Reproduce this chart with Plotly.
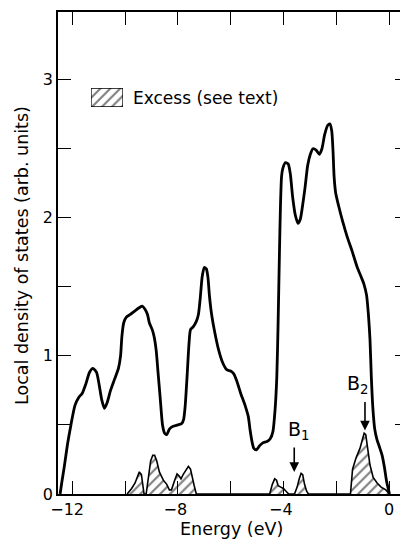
import plotly.graph_objects as go

# ---- data ----
energy = [-12.46, -12.40, -12.30, -12.18, -12.05, -11.90, -11.75, -11.62, -11.48, -11.35,
          -11.22, -11.08, -10.98, -10.88, -10.78, -10.68, -10.55, -10.40, -10.25, -10.17,
          -10.12, -10.05, -9.95, -9.80, -9.60, -9.45, -9.35, -9.25, -9.15, -9.08,
          -8.97, -8.90, -8.82, -8.75, -8.67, -8.58, -8.50, -8.42, -8.32, -8.18,
          -8.00, -7.85, -7.78, -7.72, -7.65, -7.58, -7.52, -7.42, -7.30, -7.22,
          -7.15, -7.08, -7.00, -6.92, -6.86, -6.80, -6.72, -6.60, -6.45, -6.30,
          -6.15, -6.00, -5.88, -5.77, -5.62, -5.45, -5.33, -5.26, -5.18, -5.12,
          -5.02, -4.90, -4.78, -4.62, -4.50, -4.40, -4.32, -4.25, -4.20, -4.15,
          -4.11, -4.07, -4.02, -3.92, -3.82, -3.74, -3.65, -3.55, -3.45, -3.36,
          -3.28, -3.18, -3.08, -2.98, -2.88, -2.76, -2.64, -2.54, -2.44, -2.32,
          -2.24, -2.17, -2.12, -2.08, -2.02, -1.90, -1.75, -1.58, -1.40, -1.20,
          -1.05, -0.95, -0.85, -0.78, -0.72, -0.67, -0.61, -0.54, -0.45, -0.36,
          -0.26, -0.17, -0.09, 0.02]
dos = [0.00, 0.08, 0.20, 0.36, 0.50, 0.64, 0.70, 0.73, 0.80, 0.88,
       0.91, 0.88, 0.79, 0.68, 0.62, 0.66, 0.75, 0.83, 0.91, 1.00,
       1.14, 1.24, 1.28, 1.30, 1.33, 1.35, 1.36, 1.34, 1.30, 1.24,
       1.19, 1.14, 1.04, 0.88, 0.70, 0.50, 0.44, 0.43, 0.47, 0.49,
       0.50, 0.51, 0.54, 0.64, 0.85, 1.08, 1.19, 1.21, 1.25, 1.30,
       1.42, 1.57, 1.64, 1.63, 1.57, 1.43, 1.30, 1.17, 1.04, 0.95,
       0.90, 0.89, 0.87, 0.82, 0.73, 0.64, 0.56, 0.46, 0.37, 0.33,
       0.32, 0.35, 0.37, 0.38, 0.40, 0.45, 0.60, 0.85, 1.25, 1.75,
       2.10, 2.30, 2.36, 2.40, 2.39, 2.32, 2.15, 2.02, 1.96, 1.99,
       2.08, 2.22, 2.38, 2.46, 2.50, 2.49, 2.46, 2.50, 2.60, 2.67,
       2.68, 2.63, 2.48, 2.30, 2.18, 2.08, 1.97, 1.86, 1.76, 1.64,
       1.57, 1.52, 1.44, 1.30, 1.12, 0.85, 0.62, 0.47, 0.39, 0.34,
       0.28, 0.19, 0.09, 0.00]

excess_energy = [-9.92, -9.75, -9.62, -9.52, -9.46, -9.38, -9.33, -9.28, -9.20, -9.10,
                 -9.03, -8.95, -8.88, -8.80, -8.70, -8.55, -8.42, -8.32, -8.24, -8.12,
                 -8.03, -7.95, -7.88, -7.80, -7.68, -7.60, -7.52, -7.45, -7.38, -7.30,
                 -4.52, -4.42, -4.33, -4.26, -4.20, -4.10, -4.00, -3.90, -3.80,
                 -3.58, -3.48, -3.40, -3.33, -3.27, -3.20, -3.12, -3.05,
                 -1.46, -1.42, -1.38, -1.25, -1.10, -1.00, -0.94, -0.88, -0.84, -0.80,
                 -0.72, -0.60, -0.45, -0.30, -0.12, 0.02]
excess = [0.00, 0.04, 0.08, 0.13, 0.16, 0.14, 0.06, 0.00, 0.00, 0.15,
          0.24, 0.28, 0.28, 0.24, 0.16, 0.10, 0.07, 0.03, 0.03, 0.10,
          0.145, 0.13, 0.11, 0.14, 0.18, 0.20, 0.18, 0.13, 0.06, 0.00,
          0.00, 0.07, 0.11, 0.10, 0.06, 0.05, 0.04, 0.02, 0.00,
          0.00, 0.05, 0.11, 0.15, 0.14, 0.07, 0.02, 0.00,
          0.00, 0.12, 0.18, 0.26, 0.33, 0.40, 0.44, 0.43, 0.38, 0.31,
          0.21, 0.12, 0.08, 0.05, 0.03, 0.00]

x_tick_vals = [-12, -10, -8, -6, -4, -2, 0]
x_tick_text = ["\u221212\u00a0\u00a0", "", "\u22128\u00a0", "", "\u22124\u00a0", "", "0"]
y_tick_vals = [0, 0.5, 1, 1.5, 2, 2.5, 3]
y_tick_text = ["0", "", "1", "", "2", "", "3"]

marker_labels = ["B<sub>1</sub>", "B<sub>2</sub>"]
marker_energy = [-3.59, -0.91]
marker_value = [0.16, 0.46]

legend_label = "Excess (see text)"
x_title = "Energy (eV)"
y_title = "Local density of states (arb. units)"

# unit square used as the legend swatch (in its own hidden 0..1 axes)
swatch_x = [0, 1, 1, 0, 0]
swatch_y = [0, 0, 1, 1, 0]

FONT = "DejaVu Sans"
hatch = dict(shape="/", fgcolor="black", bgcolor="white", size=7, solidity=0.3)

fig = go.Figure()
fig.add_trace(go.Scatter(
    x=excess_energy, y=excess, mode="lines", fill="tozeroy",
    fillpattern=hatch, fillcolor="white",
    line=dict(color="black", width=1.6), showlegend=False, hoverinfo="skip"))
fig.add_trace(go.Scatter(
    x=energy, y=dos, mode="lines",
    line=dict(color="black", width=2.8, shape="spline", smoothing=0.6),
    showlegend=False))
fig.add_trace(go.Scatter(
    x=swatch_x, y=swatch_y, xaxis="x2", yaxis="y2", mode="lines", fill="toself",
    fillpattern=hatch, fillcolor="white",
    line=dict(color="black", width=1.3), showlegend=False, hoverinfo="skip"))

# the page body adds an 8 px offset; target positions are given in screen pixels
OFF = 8
W, H = 408, 544
PLOT_L, PLOT_T, PLOT_R, PLOT_B = 58, 12, 408, 494          # screen pixels
L, T = PLOT_L - OFF, PLOT_T - OFF
R, B = W - (PLOT_R - OFF), H - (PLOT_B - OFF)
pw, ph = W - L - R, H - T - B


def px_x(px):
    return (px - PLOT_L) / pw


def px_y(py):
    return (PLOT_B - py) / ph


axis_common = dict(showline=True, linecolor="black", linewidth=1.5, mirror="ticks",
                   ticks="inside", ticklen=13, tickwidth=1.4, tickcolor="black",
                   showgrid=False, zeroline=False, automargin=False,
                   tickfont=dict(family=FONT, size=16, color="black"))

fig.update_layout(
    width=W, height=H,
    margin=dict(l=L, r=R, t=T, b=B, autoexpand=False),
    paper_bgcolor="white", plot_bgcolor="white",
    font=dict(family=FONT, color="black"),
    xaxis=dict(range=[-12.54, 0.72], tickmode="array", tickvals=x_tick_vals,
               ticktext=x_tick_text, **axis_common),
    yaxis=dict(range=[0, 3.49], tickmode="array", tickvals=y_tick_vals,
               ticktext=y_tick_text, **axis_common),
    xaxis2=dict(domain=[px_x(91), px_x(123)], anchor="y2", range=[0, 1], visible=False,
                fixedrange=True, automargin=False),
    yaxis2=dict(domain=[px_y(107), px_y(88)], anchor="x2", range=[0, 1], visible=False,
                fixedrange=True, automargin=False),
)

ann = []
ann.append(dict(text=legend_label, xref="paper", yref="paper", x=px_x(131), y=px_y(98),
                xanchor="left", yanchor="middle", showarrow=False,
                font=dict(family=FONT, size=17, color="black")))
ann.append(dict(text=x_title, xref="paper", yref="paper", x=px_x(231), y=px_y(529),
                xanchor="center", yanchor="middle", showarrow=False,
                font=dict(family=FONT, size=17.5, color="black")))
ann.append(dict(text=y_title, xref="paper", yref="paper", x=px_x(22), y=px_y(256),
                xanchor="center", yanchor="middle", textangle=-90, showarrow=False,
                font=dict(family=FONT, size=17.5, color="black")))
arrow_len = [26, 30]
label_shift = [5, -7]
for lab, xe, yv, al, xs in zip(marker_labels, marker_energy, marker_value, arrow_len, label_shift):
    ann.append(dict(text="", x=xe, y=yv, xref="x", yref="y", showarrow=True,
                    ax=0, ay=-al, arrowhead=2, arrowsize=1.2, arrowwidth=1.6,
                    arrowcolor="black", standoff=0, startstandoff=0))
    ann.append(dict(text=lab, x=xe, y=yv, xref="x", yref="y", showarrow=False,
                    xanchor="center", yanchor="bottom", xshift=xs, yshift=al + 1,
                    font=dict(family=FONT, size=19, color="black")))
fig.update_layout(annotations=ann)

fig.write_html("out.html")
